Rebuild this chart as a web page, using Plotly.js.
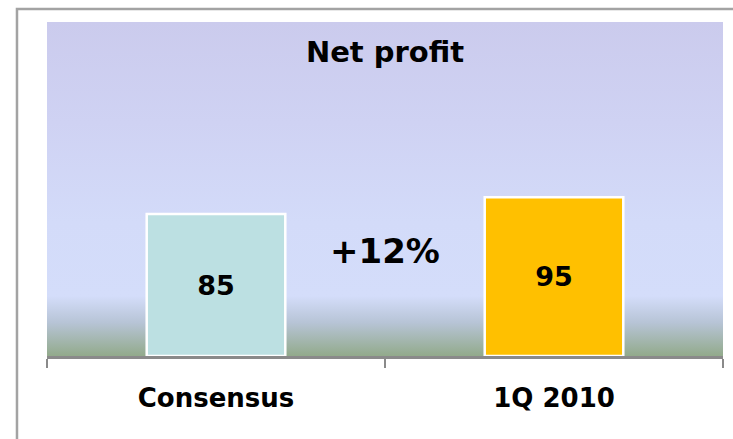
<!DOCTYPE html>
<html>
<head>
<meta charset="utf-8">
<script src="https://cdn.plot.ly/plotly-3.0.1.min.js"></script>
<style>
html,body{margin:0;padding:0;background:#fff;}
#chart{width:733px;height:439px;}
</style>
</head>
<body>
<div id="chart"></div>
<script>
const categories = ["Consensus", "1Q 2010"];
const values = [85, 95];
const valueLabels = ["85", "95"];
const barColors = ["#bce0e2", "#ffc000"];
const changeLabel = "+12%";
const chartTitle = "Net profit";

const gradSvg = '<svg xmlns="http://www.w3.org/2000/svg" width="100" height="100" preserveAspectRatio="none">' +
  '<defs><linearGradient id="g" x1="0" y1="0" x2="0" y2="1">' +
  '<stop offset="0" stop-color="#cbcbed"/>' +
  '<stop offset="0.3" stop-color="#cfd2f3"/>' +
  '<stop offset="0.6" stop-color="#d3dbf9"/>' +
  '<stop offset="0.82" stop-color="#d4ddfa"/>' +
  '<stop offset="0.9" stop-color="#b7c4d6"/>' +
  '<stop offset="1" stop-color="#92aa8b"/>' +
  '</linearGradient></defs><rect width="100" height="100" fill="url(#g)"/></svg>';
const gradUri = 'data:image/svg+xml;base64,' + btoa(gradSvg);

const font = "DejaVu Sans, Verdana, sans-serif";

const trace = {
  type: "bar",
  x: categories,
  y: values,
  text: valueLabels,
  textposition: "inside",
  insidetextanchor: "middle",
  textangle: 0,
  textfont: {family: font, size: 27, color: "#000", weight: "bold"},
  marker: {color: barColors, line: {color: "#ffffff", width: 2.5}},
  width: 0.41,
  hoverinfo: "none"
};

const layout = {
  width: 733, height: 439,
  margin: {l: 47, r: 10, t: 22, b: 83},
  paper_bgcolor: "#ffffff",
  plot_bgcolor: "rgba(0,0,0,0)",
  showlegend: false,
  title: {
    text: chartTitle,
    font: {family: font, size: 29, color: "#000", weight: "bold"},
    x: 0.5, xref: "paper", xanchor: "center",
    y: 1 - 52/439, yref: "container", yanchor: "middle"
  },
  xaxis: {
    type: "category",
    range: [-0.5, 1.5],
    showline: true, linecolor: "#8a8a8a", linewidth: 3,
    ticks: "outside", tickson: "boundaries", ticklen: 9, tickwidth: 2, tickcolor: "#8a8a8a",
    tickfont: {family: font, size: 26, color: "#000", weight: "bold"},
    ticklabelstandoff: 17,
    showgrid: false, zeroline: false, fixedrange: true
  },
  yaxis: {
    range: [0, 200],
    visible: false, showgrid: false, zeroline: false, fixedrange: true
  },
  images: [{
    source: gradUri, xref: "paper", yref: "paper",
    x: 0, y: 1, sizex: 1, sizey: 1, sizing: "stretch",
    xanchor: "left", yanchor: "top", layer: "below"
  }],
  annotations: [{
    text: changeLabel, x: 0.5, y: 63, xref: "x", yref: "y",
    showarrow: false, xanchor: "center", yanchor: "middle",
    font: {family: font, size: 34, color: "#000", weight: "bold"}
  }],
  shapes: [{
    type: "rect", xref: "paper", yref: "paper",
    x0: -0.0444, x1: 1.1, y0: -0.4, y1: 1.039,
    line: {color: "#a3a3a3", width: 2.5}, fillcolor: "rgba(0,0,0,0)", layer: "above"
  }]
};

Plotly.newPlot("chart", [trace], layout, {displayModeBar: false, staticPlot: true});
</script>
</body>
</html>
